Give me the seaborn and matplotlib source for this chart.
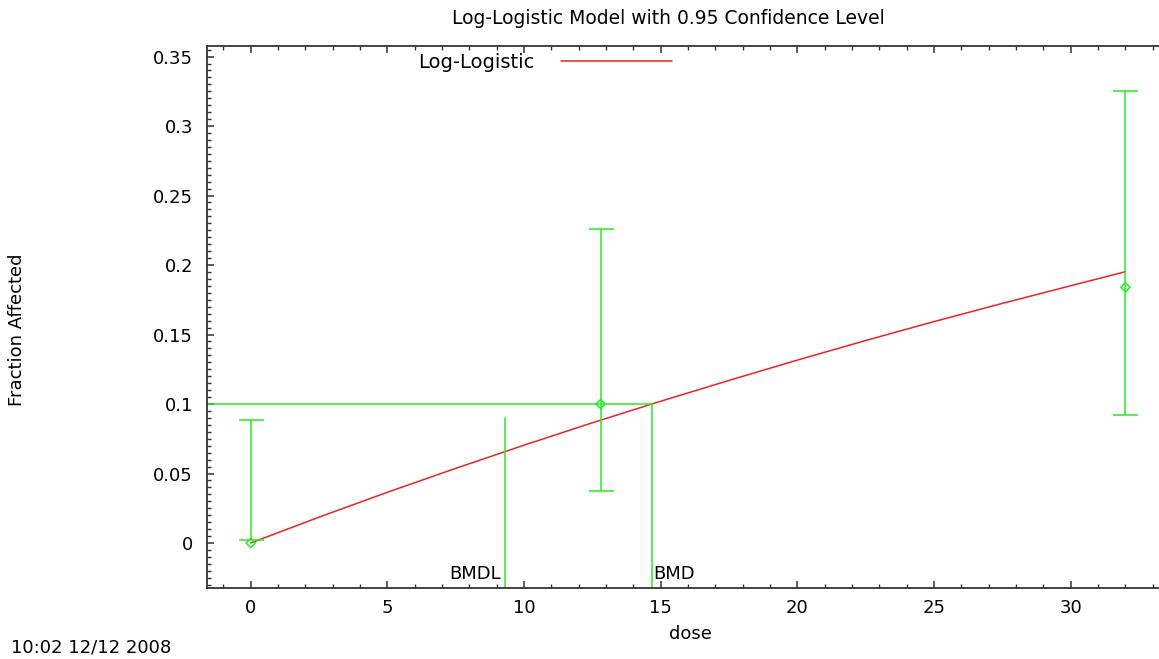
import numpy as np
import pandas as pd
import matplotlib
matplotlib.use("Agg")
import matplotlib.pyplot as plt
import seaborn as sns
from matplotlib.ticker import MultipleLocator

# observed data
dose = [0, 12.8, 32]
frac = [0.0, 0.1, 0.184]
ci_low = [0.002, 0.0374, 0.092]
ci_high = [0.0885, 0.226, 0.325]

# fitted log-logistic curve
curve_dose = [0, 2.5, 5, 7.5, 10, 12.5, 15, 17.5, 20, 22.5, 25, 27.5, 30, 32]
curve_frac = [0.0, 0.0186, 0.0365, 0.0537, 0.0704, 0.0865, 0.102, 0.117,
              0.1316, 0.1457, 0.1593, 0.1724, 0.1851, 0.1952]

bmr = 0.1
bmd = 14.68
bmdl = 9.3
bmdl_top = 0.09

green = '#22ee22'
red = '#ee2222'

sns.set_style("ticks")
plt.rcParams['font.family'] = ['DejaVu Sans']
plt.rcParams['text.color'] = 'black'
plt.rcParams['xtick.labelcolor'] = 'black'
plt.rcParams['ytick.labelcolor'] = 'black'

fig = plt.figure(figsize=(11.59, 6.59), dpi=100)
ax = fig.add_axes([0.1786, 0.1077, 0.8214, 0.8225])

curve = pd.DataFrame({'dose': curve_dose, 'frac': curve_frac})
sns.lineplot(data=curve, x='dose', y='frac', ax=ax, color=red, lw=1.1,
             label='Log-Logistic')

# confidence bars with caps
ax.vlines(dose, ci_low, ci_high, color=green, lw=1.1)
ax.plot(dose, ci_low, ls='none', marker='_', ms=18, mew=1.1, color=green)
ax.plot(dose, ci_high, ls='none', marker='_', ms=18, mew=1.1, color=green)
pts = pd.DataFrame({'dose': dose, 'frac': frac})
sns.scatterplot(data=pts, x='dose', y='frac', ax=ax, marker='D', s=22,
                facecolor='none', edgecolor=green, linewidth=1.1, zorder=4)

# BMD / BMDL markers
xmin, xmax = -1.6, 33.23
ymin, ymax = -0.0324, 0.3576
ax.plot([xmin, bmd], [bmr, bmr], color=green, lw=1.1)
ax.plot([bmd, bmd], [ymin, bmr], color=green, lw=1.1)
ax.plot([bmdl, bmdl], [ymin, bmdl_top], color=green, lw=1.1)
ax.text(bmdl - 0.15, -0.022, 'BMDL', ha='right', va='center', fontsize=13)
ax.text(bmd + 0.05, -0.022, 'BMD', ha='left', va='center', fontsize=13)

ax.set_xlim(xmin, xmax)
ax.set_ylim(ymin, ymax)
ax.xaxis.set_major_locator(MultipleLocator(5))
ax.xaxis.set_minor_locator(MultipleLocator(1))
ax.yaxis.set_minor_locator(MultipleLocator(0.005))
ax.set_yticks(np.arange(0, 0.351, 0.05))
ax.set_yticklabels(['0', '0.05', '0.1', '0.15', '0.2', '0.25', '0.3', '0.35'])

for s in ['left', 'bottom', 'top']:
    ax.spines[s].set_visible(True)
    ax.spines[s].set_color('#333333')
    ax.spines[s].set_linewidth(1.3)
ax.spines['right'].set_visible(False)
ax.tick_params(which='both', direction='in', top=True, right=False,
               color='#333333', labelsize=13)
ax.tick_params(which='major', length=5, width=1.1)
ax.tick_params(axis='x', which='major', pad=8)
ax.tick_params(axis='y', which='major', pad=10)
ax.tick_params(which='minor', length=3, width=1.0)

ax.set_xlabel('')
ax.set_ylabel('')
fig.text(690 / 1159, 1 - 634 / 659, 'dose', ha='center', va='center', fontsize=13)
fig.text(17 / 1159, 1 - 330 / 659, 'Fraction Affected', ha='center', va='center',
         rotation=90, fontsize=13)
fig.text(668 / 1159, 1 - 18 / 659, 'Log-Logistic Model with 0.95 Confidence Level',
         ha='center', va='center', fontsize=13.5)
fig.text(11 / 1159, 3 / 659, '10:02 12/12 2008', ha='left', va='bottom',
         fontsize=13)

ax.legend(loc='center', bbox_to_anchor=(545 / 1159, 1 - 62 / 659),
          bbox_transform=fig.transFigure, frameon=False, markerfirst=False,
          fontsize=14, handlelength=5.7, handletextpad=1.4, borderpad=0)

fig.savefig('out.png', dpi=100)
